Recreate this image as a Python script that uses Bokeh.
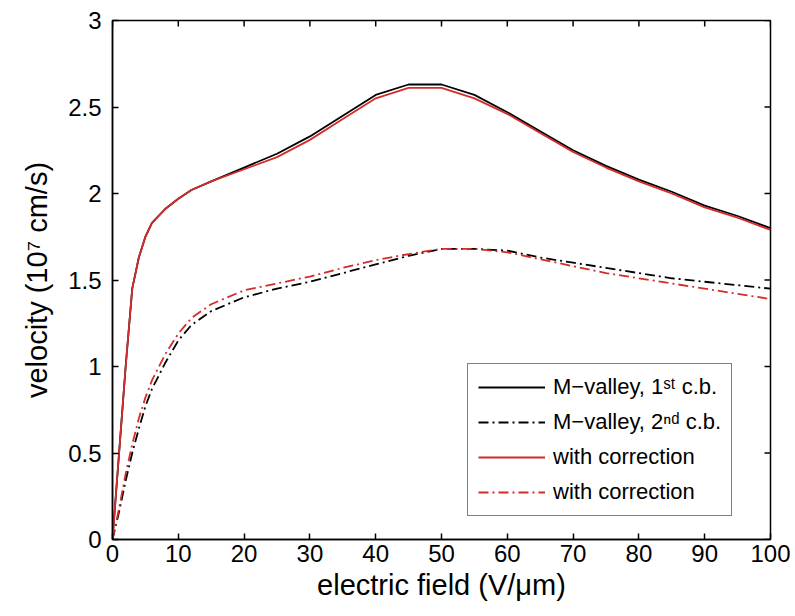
from bokeh.plotting import figure
from bokeh.models import Legend, LegendItem, FixedTicker, Range1d
from bokeh.embed import file_html
from bokeh.resources import INLINE

# ---- data ----
field = [0, 1, 2, 3, 4, 5, 6, 8, 10, 12, 15, 20, 25, 30, 35, 40, 45, 50, 55, 60, 65, 70, 75, 80, 85, 90, 95, 100]
v_first = [0, 0.5, 1.0, 1.45, 1.63, 1.75, 1.83, 1.91, 1.97, 2.02, 2.07, 2.15, 2.23, 2.33, 2.45, 2.57, 2.63, 2.63,
           2.57, 2.47, 2.36, 2.25, 2.16, 2.08, 2.01, 1.93, 1.87, 1.80]
v_first_corr = [0, 0.5, 1.0, 1.45, 1.63, 1.75, 1.83, 1.91, 1.97, 2.02, 2.07, 2.14, 2.21, 2.31, 2.43, 2.55, 2.61, 2.61,
                2.55, 2.46, 2.35, 2.24, 2.15, 2.07, 2.00, 1.92, 1.86, 1.79]
v_second = [0, 0.16, 0.34, 0.5, 0.64, 0.77, 0.87, 1.02, 1.15, 1.24, 1.32, 1.40, 1.45, 1.49, 1.54, 1.59, 1.64, 1.68,
            1.68, 1.67, 1.63, 1.60, 1.57, 1.54, 1.51, 1.49, 1.47, 1.45]
v_second_corr = [0, 0.18, 0.38, 0.55, 0.70, 0.82, 0.92, 1.07, 1.19, 1.28, 1.36, 1.44, 1.48, 1.52, 1.57, 1.615, 1.65,
                 1.68, 1.68, 1.66, 1.62, 1.58, 1.54, 1.51, 1.48, 1.45, 1.42, 1.39]
x_ticks = [0, 10, 20, 30, 40, 50, 60, 70, 80, 90, 100]
y_ticks = [0, 0.5, 1, 1.5, 2, 2.5, 3]
labels = ["M\u2212valley, 1\u02e2\u1d57 c.b.", "M\u2212valley, 2\u207f\u1d48 c.b.", "with correction", "with correction"]

FONT = "Liberation Sans"
RED = "#d42b2b"
DASHDOT = "10 4 2 4"

p = figure(frame_width=658, frame_height=519, output_backend="svg", toolbar_location=None,
           x_range=Range1d(x_ticks[0], x_ticks[-1]), y_range=Range1d(y_ticks[0], y_ticks[-1]),
           min_border_left=112, min_border_right=20, min_border_top=20, min_border_bottom=72,
           x_axis_label="electric field (V/\u03bcm)", y_axis_label="velocity (10\u2077 cm/s)")
p.grid.visible = False
p.outline_line_color = "black"
p.outline_line_width = 1.5
p.background_fill_color = "white"
p.border_fill_color = "white"

for ax in p.xaxis + p.yaxis:
    ax.major_label_text_font = FONT
    ax.major_label_text_font_size = "24px"
    ax.major_label_text_color = "black"
    ax.axis_label_text_font = FONT
    ax.axis_label_text_font_size = "29px"
    ax.axis_label_text_font_style = "normal"
    ax.axis_label_text_color = "black"
    ax.axis_line_width = 1.5
    ax.axis_line_color = "black"
    ax.major_tick_in = 6
    ax.major_tick_out = 0
    ax.major_tick_line_width = 1.5
    ax.minor_tick_line_color = None
p.xaxis.ticker = FixedTicker(ticks=x_ticks)
p.yaxis.ticker = FixedTicker(ticks=y_ticks)
p.xaxis.major_label_standoff = 5
p.yaxis.major_label_standoff = 11
p.xaxis.axis_label_standoff = 4
p.yaxis.axis_label_standoff = 12

# mirrored inside tick marks on the top and right edges
p.ray(x=x_ticks, y=[y_ticks[-1]] * len(x_ticks), length=6, length_units="screen",
      angle=-90, angle_units="deg", line_color="black", line_width=1.5)
p.ray(x=[x_ticks[-1]] * len(y_ticks), y=y_ticks, length=6, length_units="screen",
      angle=180, angle_units="deg", line_color="black", line_width=1.5)

r1 = p.line(field, v_first, line_color="black", line_width=1.8)
r2 = p.line(field, v_second, line_color="black", line_width=1.8, line_dash=DASHDOT)
r3 = p.line(field, v_first_corr, line_color=RED, line_width=1.8)
r4 = p.line(field, v_second_corr, line_color=RED, line_width=1.8, line_dash=DASHDOT)

legend = Legend(items=[LegendItem(label=labels[0], renderers=[r1]),
                       LegendItem(label=labels[1], renderers=[r2]),
                       LegendItem(label=labels[2], renderers=[r3]),
                       LegendItem(label=labels[3], renderers=[r4])],
                location=(355, 23), label_text_font=FONT, label_text_font_size="22px",
                label_text_color="black", glyph_width=67, glyph_height=24, label_height=24,
                spacing=9, padding=10, margin=0, label_standoff=8,
                border_line_color="black", border_line_width=1.5, background_fill_alpha=1)
p.add_layout(legend, "center")

open("out.html", "w").write(file_html(p, INLINE))
